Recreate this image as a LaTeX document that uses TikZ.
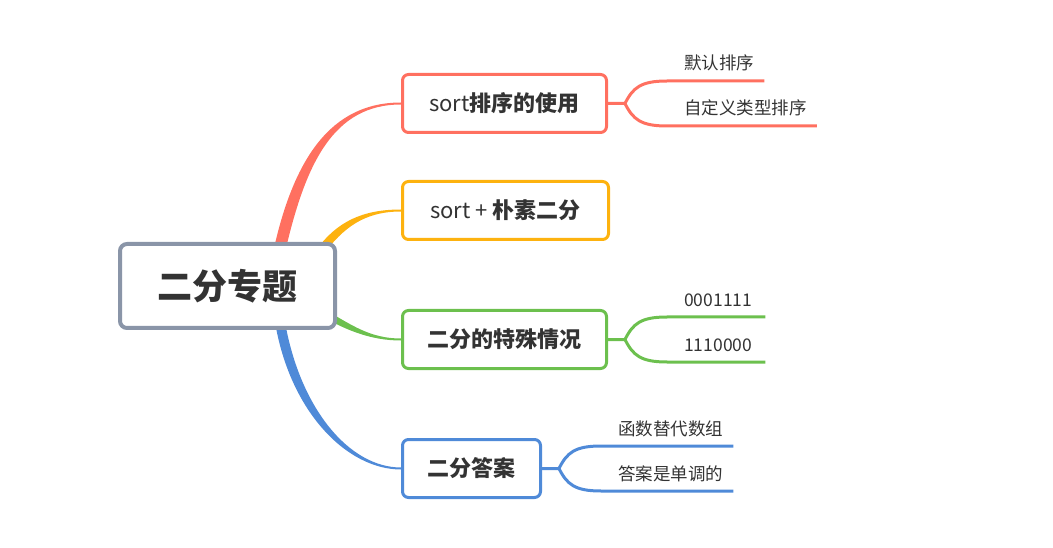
\documentclass[tikz,border=0pt]{standalone}
\usepackage{fontspec}
\setmainfont{Noto Sans CJK SC}
\usetikzlibrary{calc,backgrounds}

\definecolor{cRed}{HTML}{FF7060}
\definecolor{cYellow}{HTML}{FDB20F}
\definecolor{cGreen}{HTML}{6CC04E}
\definecolor{cBlue}{HTML}{4F8AD8}
\definecolor{cGray}{HTML}{8A95A8}
\definecolor{cText}{HTML}{333333}

\begin{document}
\begin{tikzpicture}[x=1pt,y=-1pt,
    topic/.style={draw, line width=3pt, rounded corners=6pt, fill=white, text=cText,
      minimum height=58pt, font=\fontsize{22}{26}\selectfont\bfseries},
    leaf/.style={anchor=base west, inner sep=0pt, text=cText, font=\fontsize{17.5}{20}\selectfont},
    twig/.style={line width=3pt}]

    \useasboundingbox (0,0) rectangle (1053,548);

    % Draw central topic
    \node[draw=cGray, line width=4pt, rounded corners=7pt, fill=white, text=cText,
      minimum width=215pt, minimum height=84pt, font=\fontsize{35}{40}\selectfont\bfseries]
      (root) at (227.5,286) {二分专题};

    % Draw main topics
    \node[topic, draw=cRed, minimum width=204pt] (b1) at (504.5,103.5) {{\mdseries sort}排序的使用};
    \node[topic, draw=cYellow, minimum width=206pt] (b2) at (505.5,210.5) {{\mdseries sort +} 朴素二分};
    \node[topic, draw=cGreen, minimum width=204pt] (b3) at (504.5,339.5) {二分的特殊情况};
    \node[topic, draw=cBlue, minimum width=138pt] (b4) at (471.5,468.5) {二分答案};

    % Branch roots inside the central topic
    \coordinate (rRed) at (280,248);
    \coordinate (rYel) at (320,252);
    \coordinate (rGre) at (325,314);
    \coordinate (rBlu) at (280,322);

    % Draw tapered branches behind the boxes
    \begin{scope}[on background layer]
    \fill[cRed] ($(rRed)+(-6,0)$) .. controls +(20,-88) and +(-71,0) .. ([yshift=1]b1.west)
      -- ([yshift=-1]b1.west) .. controls +(-68,0) and +(20,-84) .. ($(rRed)+(6,0)$) -- cycle;
    \fill[cYellow] ($(rYel)+(-3,-3)$) .. controls +(20,-27) and +(-39,0) .. ([yshift=1]b2.west)
      -- ([yshift=-1]b2.west) .. controls +(-37,0) and +(20,-27) .. ($(rYel)+(3,3)$) -- cycle;
    \fill[cGreen] ($(rGre)+(2,-3)$) .. controls +(25,14) and +(-31,0) .. ([yshift=1]b3.west)
      -- ([yshift=-1]b3.west) .. controls +(-29,0) and +(25,14) .. ($(rGre)+(-2,3)$) -- cycle;
    \fill[cBlue] ($(rBlu)+(5,0)$) .. controls +(15,86) and +(-52,0) .. ([yshift=1]b4.west)
      -- ([yshift=-1]b4.west) .. controls +(-54,0) and +(15,90) .. ($(rBlu)+(-5,0)$) -- cycle;
    \end{scope}

    % Draw sub topics
    \coordinate (k1) at ($(b1.east)+(17,0)$);
    \node[leaf] (l11) at ($(k1)+(59,-33.5)$) {默认排序};
    \node[leaf] (l12) at ($(k1)+(59,11.5)$) {自定义类型排序};
    \draw[twig, cRed] (b1.east) -- (k1) .. controls +(8,-16) and +(-26,0) .. ($(k1)+(42,-22.5)$) -- ($(l11.base east)+(10,11)$);
    \draw[twig, cRed] (k1) .. controls +(8,16) and +(-26,0) .. ($(k1)+(42,22.5)$) -- ($(l12.base east)+(10,11)$);

    \coordinate (k3) at ($(b3.east)+(17,0)$);
    \node[leaf] (l31) at ($(k3)+(59,-33.5)$) {0001111};
    \node[leaf] (l32) at ($(k3)+(59,11.5)$) {1110000};
    \draw[twig, cGreen] (b3.east) -- (k3) .. controls +(8,-16) and +(-26,0) .. ($(k3)+(42,-22.5)$) -- ($(l31.base east)+(13,11)$);
    \draw[twig, cGreen] (k3) .. controls +(8,16) and +(-26,0) .. ($(k3)+(42,22.5)$) -- ($(l32.base east)+(13,11)$);

    \coordinate (k4) at ($(b4.east)+(17,0)$);
    \node[leaf] (l41) at ($(k4)+(59,-33.5)$) {函数替代数组};
    \node[leaf] (l42) at ($(k4)+(59,11.5)$) {答案是单调的};
    \draw[twig, cBlue] (b4.east) -- (k4) .. controls +(8,-16) and +(-26,0) .. ($(k4)+(42,-22.5)$) -- ($(l41.base east)+(10,11)$);
    \draw[twig, cBlue] (k4) .. controls +(8,16) and +(-26,0) .. ($(k4)+(42,22.5)$) -- ($(l42.base east)+(10,11)$);

\end{tikzpicture}
\end{document}
